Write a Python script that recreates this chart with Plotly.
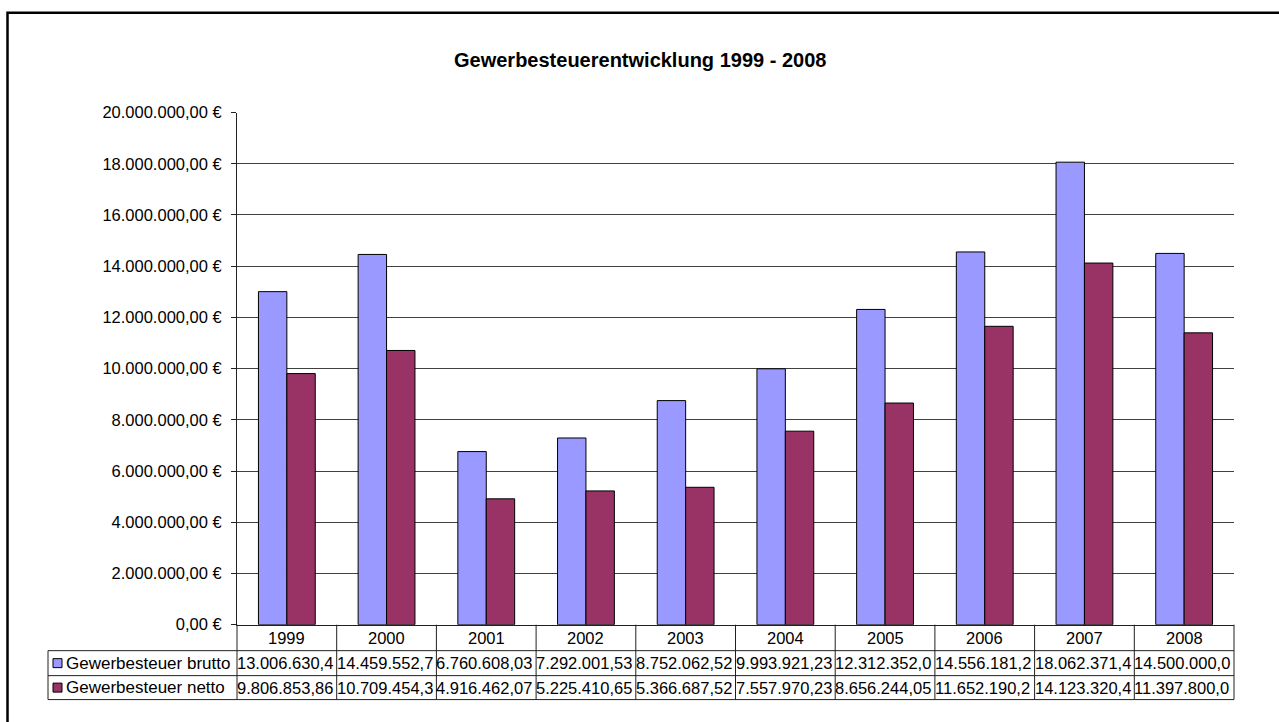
import plotly.graph_objects as go

years = ["1999", "2000", "2001", "2002", "2003", "2004", "2005", "2006", "2007", "2008"]
brutto = [13006630.40, 14459552.70, 6760608.03, 7292001.53, 8752062.52,
          9993921.23, 12312352.00, 14556181.20, 18062371.40, 14500000.00]
netto = [9806853.86, 10709454.30, 4916462.07, 5225410.65, 5366687.52,
         7557970.23, 8656244.05, 11652190.20, 14123320.40, 11397800.00]
series_names = ["Gewerbesteuer brutto", "Gewerbesteuer netto"]
colors = ["#9999FF", "#993366"]
title_text = "Gewerbesteuerentwicklung 1999 - 2008"
yticks = list(range(0, 20000001, 2000000))

W, H = 1279, 722
FONT = "Arial, Liberation Sans, sans-serif"


def de(v, dec=2):
    s = f"{v:,.{dec}f}"
    return s.replace(",", "X").replace(".", ",").replace("X", ".")


def px(x):
    return x / W


def py(y):
    # compensate for the vertical mapping observed in the renderer
    d = (y - 7.26) / 0.9767
    return 1 - d / H


# layout geometry (pixels)
PL, PR, PT, PB = 237, 1234, 111, 624
ROW1, ROW2, ROW3 = 650, 675, 699
LEG_L = 48
colw = (PR - PL) / len(years)

fig = go.Figure()
for name, vals, c in zip(series_names, [brutto, netto], colors):
    fig.add_trace(go.Bar(x=years, y=vals, name=name,
                         marker=dict(color=c, line=dict(color="black", width=1))))

shapes = []
ann = []
line_c = "#202020"


def hline(x0, x1, y, w=1, c=line_c):
    shapes.append(dict(type="line", xref="paper", yref="paper", x0=px(x0), x1=px(x1),
                       y0=py(y), y1=py(y), line=dict(color=c, width=w)))


def vline(x, y0, y1, w=1, c=line_c):
    shapes.append(dict(type="line", xref="paper", yref="paper", x0=px(x), x1=px(x),
                       y0=py(y0), y1=py(y1), line=dict(color=c, width=w)))


# outer chart border
shapes.append(dict(type="rect", xref="paper", yref="paper", x0=px(7.5), x1=px(1300),
                   y0=py(760), y1=py(11), line=dict(color="black", width=2.5)))

# table lines
hline(LEG_L, PR, ROW1)
hline(LEG_L, PR, ROW2)
hline(LEG_L, PR, ROW3)
vline(LEG_L, ROW1, ROW3)
vline(PL, PB, ROW3)
for i in range(1, len(years) + 1):
    vline(PL + i * colw, PB, ROW3)

TF = 16.5
# table text
for i, yr in enumerate(years):
    ann.append(dict(text=yr, xref="paper", yref="paper", x=px(PL + (i + 0.5) * colw),
                    y=py((PB + ROW1) / 2), xanchor="center", yanchor="middle",
                    showarrow=False, font=dict(size=TF, color="black", family=FONT)))
for r, (vals, yc) in enumerate([(brutto, (ROW1 + ROW2) / 2), (netto, (ROW2 + ROW3) / 2)]):
    for i, v in enumerate(vals):
        ann.append(dict(text=de(v)[:12], xref="paper", yref="paper", x=px(PL + i * colw),
                        y=py(yc), xanchor="left", yanchor="middle", showarrow=False,
                        borderpad=0, borderwidth=0,
                        font=dict(size=TF, color="black", family=FONT)))
    # legend key
    shapes.append(dict(type="rect", xref="paper", yref="paper", x0=px(53), x1=px(62),
                       y0=py(yc + 4.5), y1=py(yc - 4.5), fillcolor=colors[r],
                       line=dict(color="black", width=1)))
    ann.append(dict(text=series_names[r], xref="paper", yref="paper", x=px(64),
                    y=py(yc), xanchor="left", yanchor="middle", showarrow=False,
                    font=dict(size=17, color="black", family=FONT)))

# title
ann.append(dict(text="<b>" + title_text + "</b>", xref="paper", yref="paper", x=px(640),
                y=py(58), xanchor="center", yanchor="middle", showarrow=False,
                font=dict(size=20, color="black", family=FONT)))

fig.update_layout(
    width=W, height=H, autosize=False,
    margin=dict(l=0, r=0, t=0, b=0),
    paper_bgcolor="white", plot_bgcolor="white",
    barmode="group", bargap=0.43, bargroupgap=0,
    showlegend=False,
    shapes=shapes, annotations=ann,
    xaxis=dict(domain=[px(PL), px(PR)], range=[-0.5, len(years) - 0.5],
               showticklabels=False, ticks="", showgrid=False,
               showline=True, linecolor=line_c, linewidth=1, zeroline=False),
    yaxis=dict(domain=[py(PB), py(PT)], range=[0, 20000000],
               tickvals=yticks, ticktext=[de(v) + " €" for v in yticks],
               ticks="outside", ticklen=5, tickcolor=line_c, tickwidth=1,
               ticklabelstandoff=6,
               showgrid=True, gridcolor="#404040", gridwidth=1,
               showline=True, linecolor=line_c, linewidth=1, zeroline=False,
               tickfont=dict(size=16.5, color="black", family=FONT)),
)

post = (
    "document.documentElement.style.margin='0';"
    "document.body.style.margin='0';"
    "document.body.style.overflow='hidden';"
    "var d=document.querySelector('.plotly-graph-div');"
    "d.style.position='fixed';d.style.top='0px';d.style.left='0px';"
)
fig.write_html("out.html", config={"displayModeBar": False}, post_script=post)
